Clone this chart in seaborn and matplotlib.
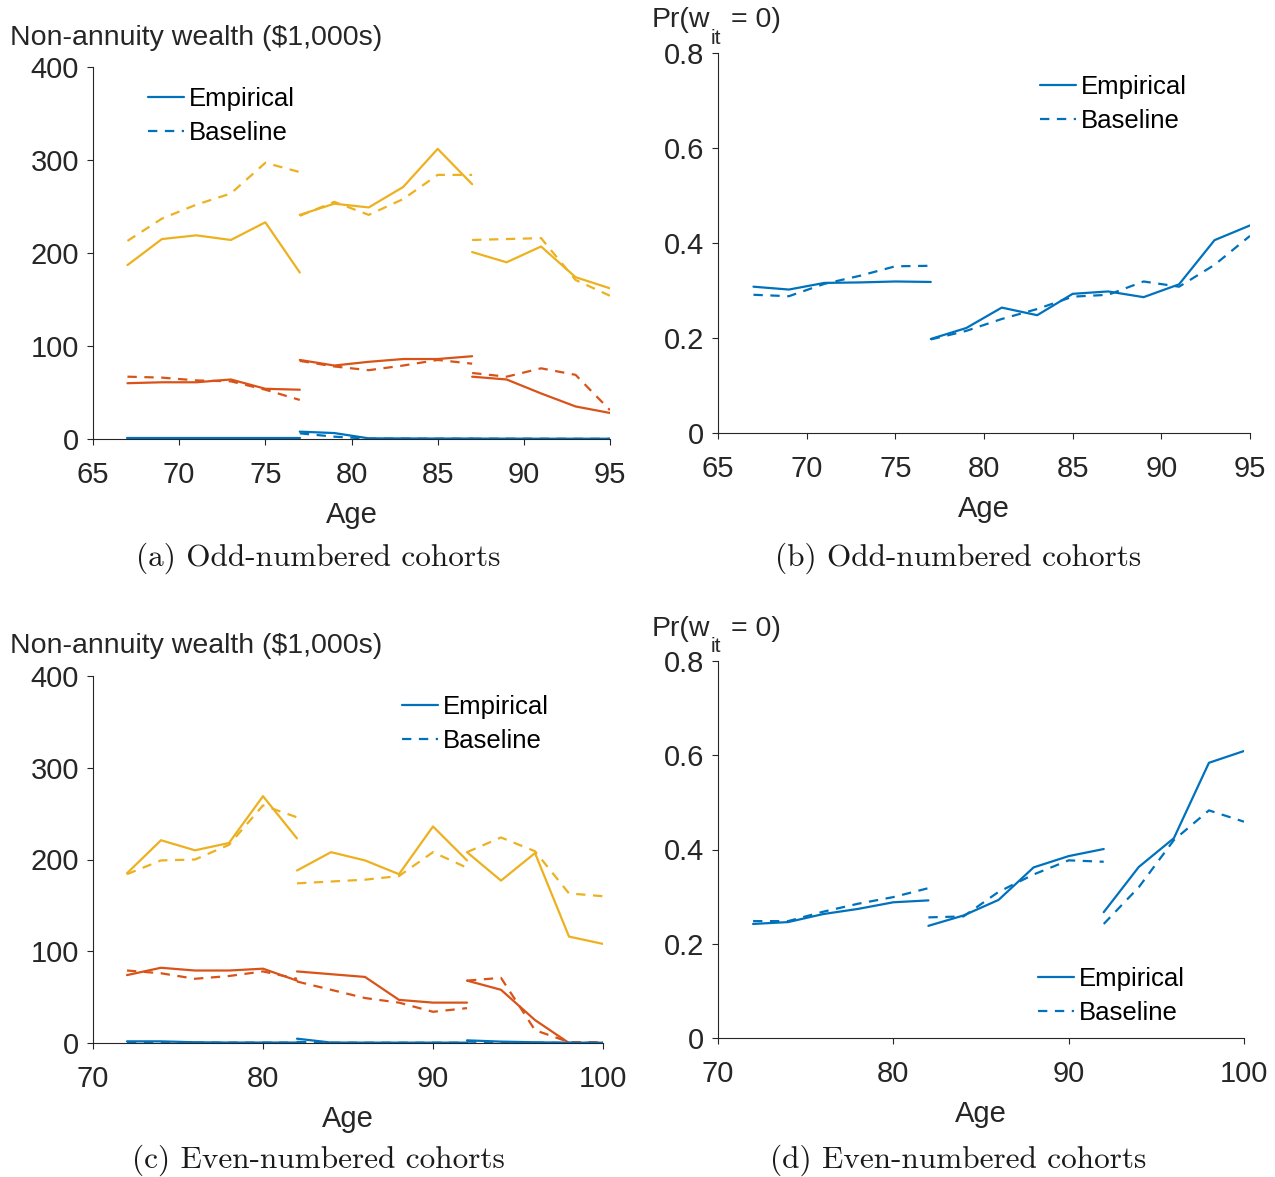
import numpy as np
import pandas as pd
import matplotlib
matplotlib.use("Agg")
import matplotlib.pyplot as plt
import seaborn as sns
from matplotlib.lines import Line2D

# ---------------- data ----------------
# Panel (a): odd-numbered cohorts, wealth ($1,000s), three cohort segments
a_ages = [[67, 69, 71, 73, 75, 77], [77, 79, 81, 83, 85, 87], [87, 89, 91, 93, 95]]
a_yel_emp = [[187, 215, 219, 214, 233, 179], [241, 253, 249, 271, 312, 274], [201, 190, 207, 174, 162]]
a_yel_base = [[213, 237, 252, 264, 297, 287], [240, 255, 241, 258, 284, 284], [214, 215, 216, 171, 154]]
a_org_emp = [[60, 61, 61, 64, 54, 53], [85, 79, 83, 86, 86, 89], [67, 64, 49, 35, 28]]
a_org_base = [[67, 66, 63, 62, 53, 42], [84, 78, 74, 79, 85, 81], [71, 67, 76, 69, 31]]
a_blu_emp = [[0.8, 0.8, 0.8, 0.8, 0.8, 0.8], [7.9, 6.4, 0.7, 0.6, 0.5, 0.5], [0.4, 0.4, 0.3, 0.3, 0.3]]
a_blu_base = [[0.5, 0.5, 0.5, 0.5, 0.5, 0.5], [6.1, 2.5, 0.4, 0.4, 0.3, 0.3], [0.3, 0.3, 0.3, 0.2, 0.2]]

# Panel (b): odd-numbered cohorts, Pr(w=0)
b_ages = [[67, 69, 71, 73, 75, 77], [77, 79, 81, 83, 85, 87, 89, 91, 93, 95]]
b_emp = [[0.308, 0.302, 0.316, 0.317, 0.319, 0.318],
         [0.198, 0.221, 0.264, 0.248, 0.293, 0.298, 0.286, 0.313, 0.406, 0.437]]
b_base = [[0.291, 0.288, 0.314, 0.331, 0.351, 0.352],
          [0.197, 0.215, 0.240, 0.261, 0.287, 0.291, 0.319, 0.308, 0.354, 0.415]]

# Panel (c): even-numbered cohorts, wealth ($1,000s)
c_ages = [[72, 74, 76, 78, 80, 82], [82, 84, 86, 88, 90, 92], [92, 94, 96, 98, 100]]
c_yel_emp = [[185, 221, 210, 218, 269, 223], [188, 208, 199, 184, 236, 199], [208, 177, 207, 116, 108]]
c_yel_base = [[184, 199, 200, 216, 259, 246], [174, 176, 178, 182, 208, 191], [208, 224, 209, 163, 160]]
c_org_emp = [[74, 82, 79, 79, 81, 68], [78, 75, 72, 47, 44, 44], [68, 58, 25, 0, 0]]
c_org_base = [[79, 76, 70, 73, 78, 70], [67, 58, 49, 44, 34, 38], [68, 71, 14, 1, 1]]
c_blu_emp = [[1.8, 1.8, 0.8, 0.5, 0.5, 0.5], [4.7, 0.5, 0.4, 0.4, 0.4, 0.4], [2.9, 1.5, 0.8, 0.3, 0.3]]
c_blu_base = [[0.8, 0.6, 0.5, 0.4, 0.4, 0.4], [1.2, 0.3, 0.3, 0.3, 0.3, 0.3], [1.5, 0.8, 0.3, 0.2, 0.2]]

# Panel (d): even-numbered cohorts, Pr(w=0)
d_ages = [[72, 74, 76, 78, 80, 82], [82, 84, 86, 88, 90, 92], [92, 94, 96, 98, 100]]
d_emp = [[0.242, 0.246, 0.263, 0.274, 0.288, 0.292], [0.238, 0.260, 0.293, 0.362, 0.386, 0.401],
         [0.267, 0.363, 0.424, 0.584, 0.609]]
d_base = [[0.248, 0.248, 0.268, 0.285, 0.299, 0.318], [0.256, 0.258, 0.310, 0.347, 0.377, 0.374],
          [0.242, 0.320, 0.420, 0.483, 0.459]]

wealth_ticks = [0, 100, 200, 300, 400]
prob_ticks = [0, 0.2, 0.4, 0.6, 0.8]
prob_ticklabels = ["0", "0.2", "0.4", "0.6", "0.8"]
ticks_odd = [65, 70, 75, 80, 85, 90, 95]
ticks_even = [70, 80, 90, 100]
captions = ["(a) Odd-numbered cohorts", "(b) Odd-numbered cohorts",
            "(c) Even-numbered cohorts", "(d) Even-numbered cohorts"]
wealth_label = "Non-annuity wealth ($1,000s)"
prob_label_parts = ["Pr(w", "it", "= 0)"]
legend_labels = ["Empirical", "Baseline"]

# ---------------- style ----------------
sns.set_theme(style="ticks")
plt.rcParams["font.family"] = ["Liberation Sans", "DejaVu Sans"]

BLUE = "#0072BD"
ORANGE = "#D95319"
YELLOW = "#EDB120"
AXC = "#262626"
LW = 1.6
DASH = (4.2, 3.4)
FS = 21
LFS = 18.5

fig = plt.figure(figsize=(12.75, 11.77), dpi=100)
W, H = 1275, 1177


def add_ax(l, r, t, b):
    return fig.add_axes([l / W, 1 - b / H, (r - l) / W, (b - t) / H])


ax_a = add_ax(93, 610, 67, 439)
ax_b = add_ax(718, 1250, 53, 433)
ax_c = add_ax(93, 603, 676, 1043)
ax_d = add_ax(718, 1244, 661, 1038)


def draw(ax, ages, vals, color, dashed):
    for seg_age, seg_val in zip(ages, vals):
        df = pd.DataFrame({"Age": seg_age, "v": seg_val})
        sns.lineplot(data=df, x="Age", y="v", ax=ax, color=color, lw=LW,
                     linestyle="--" if dashed else "-")
        if dashed:
            ax.lines[-1].set_dashes(DASH)


def style(ax, xlim, xticks, ylim, yticks, yticklabels):
    ax.set_xlim(*xlim)
    ax.set_ylim(*ylim)
    ax.set_xticks(xticks)
    ax.set_xticklabels([str(t) for t in xticks])
    ax.set_yticks(yticks)
    ax.set_yticklabels(yticklabels)
    for s in ["top", "right"]:
        ax.spines[s].set_visible(False)
    for s in ["left", "bottom"]:
        ax.spines[s].set_color(AXC)
        ax.spines[s].set_linewidth(0.8)
    ax.tick_params(axis="both", direction="out", length=4, width=0.8, color=AXC,
                   labelsize=FS, labelcolor=AXC)
    ax.tick_params(axis="x", pad=11.5)
    ax.tick_params(axis="y", pad=6)
    ax.set_xlabel("Age", fontsize=FS, color=AXC, labelpad=9)
    ax.set_ylabel("")
    ax.patch.set_alpha(0)


# panel a
draw(ax_a, a_ages, a_yel_emp, YELLOW, False)
draw(ax_a, a_ages, a_yel_base, YELLOW, True)
draw(ax_a, a_ages, a_org_emp, ORANGE, False)
draw(ax_a, a_ages, a_org_base, ORANGE, True)
draw(ax_a, a_ages, a_blu_base, BLUE, True)
draw(ax_a, a_ages, a_blu_emp, BLUE, False)
style(ax_a, (65, 95), ticks_odd, (0, 400), wealth_ticks, [str(t) for t in wealth_ticks])

# panel b
draw(ax_b, b_ages, b_emp, BLUE, False)
draw(ax_b, b_ages, b_base, BLUE, True)
style(ax_b, (65, 95), ticks_odd, (0, 0.8), prob_ticks, prob_ticklabels)

# panel c
draw(ax_c, c_ages, c_yel_emp, YELLOW, False)
draw(ax_c, c_ages, c_yel_base, YELLOW, True)
draw(ax_c, c_ages, c_org_emp, ORANGE, False)
draw(ax_c, c_ages, c_org_base, ORANGE, True)
draw(ax_c, c_ages, c_blu_base, BLUE, True)
draw(ax_c, c_ages, c_blu_emp, BLUE, False)
style(ax_c, (70, 100), ticks_even, (0, 400), wealth_ticks, [str(t) for t in wealth_ticks])

# panel d
draw(ax_d, d_ages, d_emp, BLUE, False)
draw(ax_d, d_ages, d_base, BLUE, True)
style(ax_d, (70, 100), ticks_even, (0, 0.8), prob_ticks, prob_ticklabels)

# y labels (MATLAB style, above the axis)
YFS = 20.5
fig.text(10 / W, 1 - 38 / H, wealth_label, fontsize=YFS, color=AXC, ha="left", va="center")
fig.text(10 / W, 1 - 646 / H, wealth_label, fontsize=YFS, color=AXC, ha="left", va="center")
for y0 in (20, 629):
    fig.text(652 / W, 1 - y0 / H, prob_label_parts[0], fontsize=YFS, color=AXC, ha="left", va="center")
    fig.text(711 / W, 1 - (y0 + 18) / H, prob_label_parts[1], fontsize=15, color=AXC, ha="left", va="center")
    fig.text(731 / W, 1 - y0 / H, prob_label_parts[2], fontsize=YFS, color=AXC, ha="left", va="center")

# legends
handles = [Line2D([], [], color=BLUE, lw=LW, ls="-"),
           Line2D([], [], color=BLUE, lw=LW, dashes=DASH)]


def leg(ax, x, y):
    lg = ax.legend(handles, legend_labels, loc="upper left", bbox_to_anchor=(x / W, 1 - y / H),
                   bbox_transform=fig.transFigure, frameon=False, fontsize=LFS,
                   handlelength=1.4, handletextpad=0.2, labelspacing=0.37, borderpad=0,
                   borderaxespad=0)
    for t in lg.get_texts():
        t.set_color("black")


leg(ax_a, 148, 87)
leg(ax_b, 1040, 75)
leg(ax_c, 402, 695)
leg(ax_d, 1038, 967)

# captions
for (cx, cy), cap in zip([(318, 558), (958, 558), (318, 1160), (958, 1160)], captions):
    fig.text(cx / W, 1 - cy / H, cap, fontsize=22.5, family="cmr10", color="#1a1a1a",
             ha="center", va="center")

fig.savefig("out.png", dpi=100)
